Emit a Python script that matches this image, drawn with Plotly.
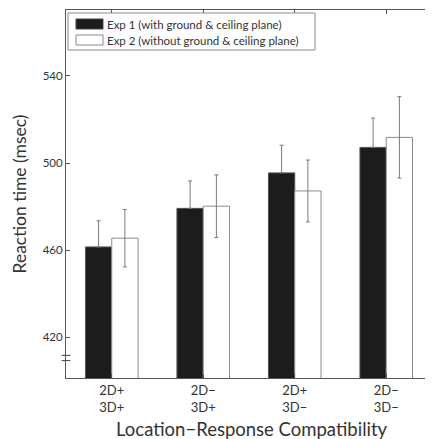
import plotly.graph_objects as go

categories = ["2D+<br>3D+", "2D−<br>3D+", "2D+<br>3D−", "2D−<br>3D−"]
exp1_rt = [461.5, 479.2, 495.5, 507.2]
exp1_err = [12.0, 12.6, 12.7, 13.5]
exp2_rt = [465.5, 480.2, 487.2, 511.8]
exp2_err = [13.2, 14.4, 14.2, 18.7]
y_ticks = [420, 460, 500, 540]
legend_labels = ["Exp 1 (with ground & ceiling plane)", "Exp 2 (without ground & ceiling plane)"]
x_title = "Location−Response Compatibility"
y_title = "Reaction time (msec)"

FONT = "Lato, Open Sans, sans-serif"
AX = "#555555"

fig = go.Figure()
fig.add_trace(go.Bar(
    x=categories, y=exp1_rt, name=legend_labels[0],
    marker=dict(color="#1c1c1c", line=dict(color="#555555", width=1)),
    error_y=dict(type="data", symmetric=False, array=exp1_err, arrayminus=[0]*len(exp1_err),
                 color="#7a7a7a", thickness=1, width=2),
))
fig.add_trace(go.Bar(
    x=categories, y=exp2_rt, name=legend_labels[1],
    marker=dict(color="white", line=dict(color="#8a8a8a", width=1)),
    error_y=dict(type="data", array=exp2_err, color="#7a7a7a", thickness=1, width=2),
))

# page body has an 8px margin: figure sized/margined so the plot lands where the reference has it
fig.update_layout(
    width=425, height=431,
    margin=dict(l=58, r=1, t=2, b=61),
    paper_bgcolor="white", plot_bgcolor="white",
    barmode="group", bargap=0.425, bargroupgap=0,
    showlegend=False,
    font=dict(family=FONT, color="#333333"),
)
fig.update_xaxes(
    range=[-0.5, 3.5], showline=True, linecolor=AX, linewidth=1, mirror="ticks",
    ticks="inside", ticklen=4, tickcolor=AX, tickfont=dict(size=13, color="#333333"),
    showgrid=False, zeroline=False,
)
fig.update_yaxes(
    range=[401.3, 570.3], tickvals=y_ticks, showline=True, linecolor=AX, linewidth=1, mirror="ticks",
    ticks="inside", ticklen=4, tickcolor=AX, tickfont=dict(size=11.5, color="#333333"),
    title=dict(text=y_title, font=dict(size=17.5, color="#333333"), standoff=11),
    showgrid=False, zeroline=False,
)

# axis break marks
for dy in [-1.2, 1.2]:
    fig.add_shape(type="line", xref="paper", yref="y", x0=-0.012, x1=0.012,
                  y0=410.5 + dy, y1=410.5 + dy, line=dict(color="#444444", width=1))

# helpers: window pixel -> paper coords (plot area spans x 66..432, y 10..378 in the window)
W, H = 366, 368
def px(x): return (x - 66) / W
def py(y): return 1 - (y - 10) / H

# x axis title
fig.add_annotation(xref="paper", yref="paper", x=px(252), y=py(429), text=x_title,
                   showarrow=False, xanchor="center", yanchor="middle",
                   font=dict(size=18.5, family=FONT, color="#333333"))

# manual legend box
fig.add_shape(type="rect", xref="paper", yref="paper", x0=px(68), x1=px(315), y0=py(50), y1=py(13),
              line=dict(color="#888888", width=1), fillcolor="white")
swatch = [("#1c1c1c", "#444444"), ("white", "#888888")]
for i, (lab, (fc, lc)) in enumerate(zip(legend_labels, swatch)):
    yc = 24 + i * 16
    fig.add_shape(type="rect", xref="paper", yref="paper", x0=px(76), x1=px(103),
                  y0=py(yc + 5), y1=py(yc - 5), fillcolor=fc, line=dict(color=lc, width=1))
    fig.add_annotation(xref="paper", yref="paper", x=px(105), y=py(yc), text=lab,
                       showarrow=False, xanchor="left", yanchor="middle",
                       font=dict(size=11.5, family=FONT, color="#333333"))

fig.write_html("out.html")
